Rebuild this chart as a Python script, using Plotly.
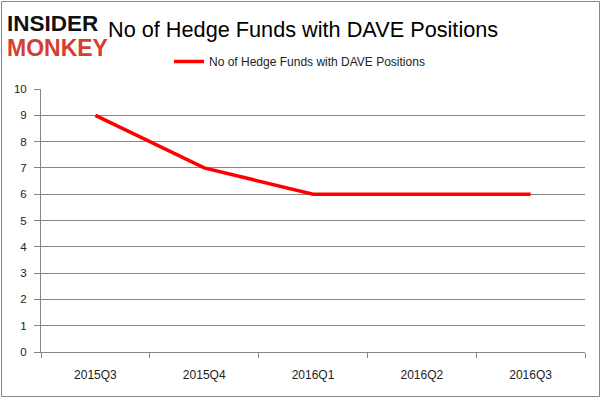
import plotly.graph_objects as go

quarters = ["2015Q3", "2015Q4", "2016Q1", "2016Q2", "2016Q3"]
funds = [9, 7, 6, 6, 6]
series_name = "No of Hedge Funds with DAVE Positions"
title_text = "No of Hedge Funds with DAVE Positions"
y_ticks = list(range(0, 11))

fig = go.Figure()
fig.add_trace(go.Scatter(
    x=quarters, y=funds, mode="lines", name=series_name,
    line=dict(color="#ff0000", width=3.5),
))

W, H = 602, 398
L, R, T, B = 41, 17, 89, 46
pw, ph = W - L - R, H - T - B


def px(xp):
    return (xp - L) / pw


def py(yp):
    return (H - B - yp) / ph


fig.update_layout(
    width=W, height=H,
    margin=dict(l=L, r=R, t=T, b=B, autoexpand=False),
    paper_bgcolor="white", plot_bgcolor="white",
    font=dict(family="Liberation Sans", size=11, color="#222222"),
    showlegend=True,
    legend=dict(
        orientation="h", x=px(169), xanchor="left",
        y=py(47), yanchor="top",
        font=dict(family="Liberation Sans", size=12, color="#222222"),
        itemwidth=30, bgcolor="rgba(0,0,0,0)",
    ),
    xaxis=dict(
        type="category", range=[-0.5, 4.5],
        showgrid=False, showline=True, linecolor="#868686", linewidth=1,
        ticks="outside", tickson="boundaries", ticklen=5, tickcolor="#868686",
        ticklabelstandoff=12,
        tickfont=dict(family="Liberation Sans", size=12, color="#222222"),
        fixedrange=True, automargin=False,
    ),
    yaxis=dict(
        range=[0, 10], tickvals=y_ticks,
        showgrid=True, gridcolor="#868686", gridwidth=1,
        showline=True, linecolor="#868686", linewidth=1,
        ticks="outside", ticklen=6, tickcolor="#868686",
        ticklabelstandoff=5,
        tickfont=dict(family="Liberation Sans", size=11.5, color="#222222"),
        zeroline=False, fixedrange=True, automargin=False,
    ),
)

# outer border
fig.add_shape(type="rect", xref="paper", yref="paper",
              x0=px(1.5), x1=px(599.5), y0=py(396.5), y1=py(1.5),
              line=dict(color="#868686", width=1), fillcolor="rgba(0,0,0,0)")

fig.add_annotation(text="<b>INSIDER</b>", xref="paper", yref="paper",
                   x=px(5), y=py(23), xanchor="left", yanchor="middle",
                   showarrow=False,
                   font=dict(family="Liberation Sans", size=22.5, color="#111111"))
fig.add_annotation(text="<b>MONKEY</b>", xref="paper", yref="paper",
                   x=px(5), y=py(47.5), xanchor="left", yanchor="middle",
                   showarrow=False,
                   font=dict(family="Liberation Sans", size=23, color="#d4402f"))
fig.add_annotation(text=title_text, xref="paper", yref="paper",
                   x=px(106), y=py(30), xanchor="left", yanchor="middle",
                   showarrow=False,
                   font=dict(family="Liberation Sans", size=21.7, color="#000000"))

fig.write_html("out.html", post_script="document.body.style.margin='0';",
               config={"displayModeBar": False})
